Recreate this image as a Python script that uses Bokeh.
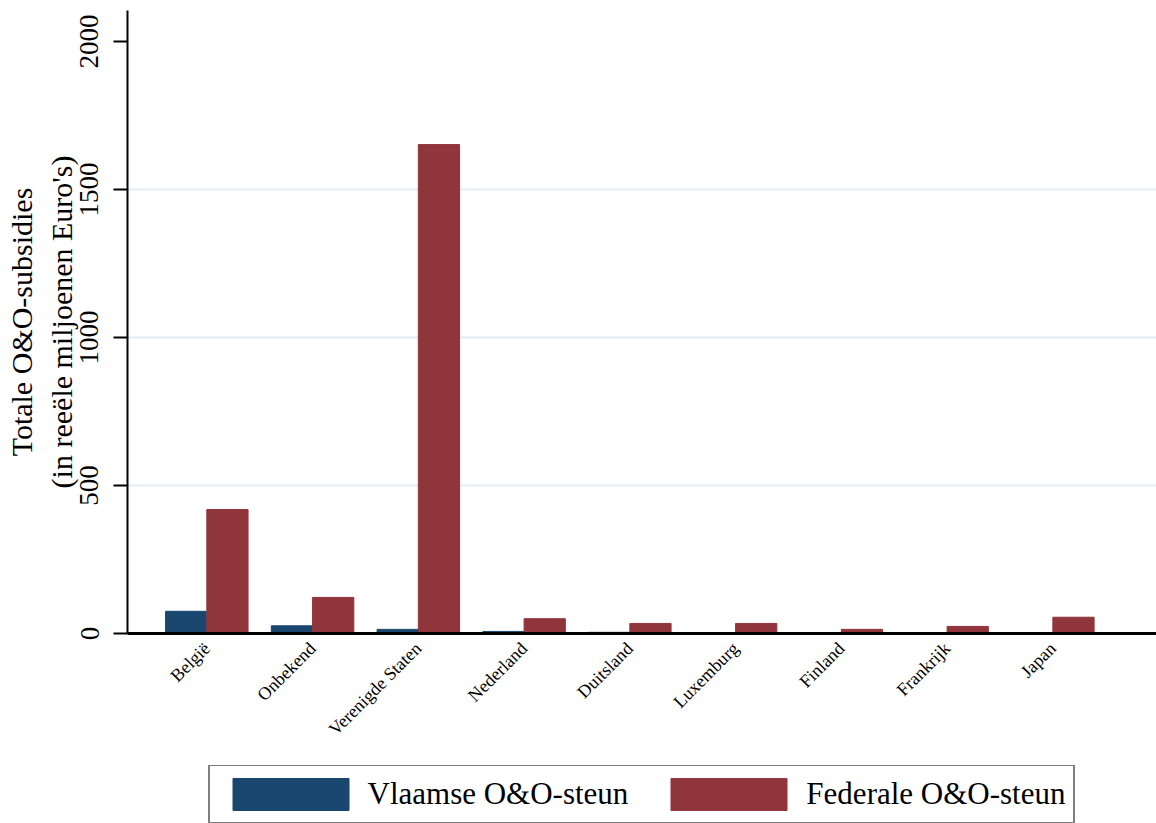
from bokeh.plotting import figure
from bokeh.models import FixedTicker, Legend, LegendItem, ColumnDataSource
from bokeh.layouts import column
from bokeh.embed import file_html
from bokeh.resources import INLINE
import numpy as np

countries = ["België", "Onbekend", "Verenigde Staten", "Nederland", "Duitsland",
             "Luxemburg", "Finland", "Frankrijk", "Japan"]
vlaamse = [75, 26, 14, 7, 4, 3, 3, 3, 3]
federale = [419, 122, 1652, 50, 34, 34, 14, 24, 55]
y_ticks = [0, 500, 1000, 1500, 2000]
series_names = ["Vlaamse O&O-steun", "Federale O&O-steun"]

FONT = "Liberation Serif"
BLUE = "#1a476f"
RED = "#90353b"

pos = np.arange(1, len(countries) + 1)
bw = 0.39

p = figure(width=1156, height=755, output_backend="svg", toolbar_location=None,
           x_range=(0.25, 9.98), y_range=(0, 2105),
           min_border_left=127, min_border_right=0, min_border_top=10,
           min_border_bottom=122)
p.outline_line_color = None
p.background_fill_color = "white"
p.border_fill_color = "white"

src = ColumnDataSource(dict(xb=pos - bw / 2, xr=pos + bw / 2, v=vlaamse, f=federale))
p.vbar(x="xb", top="v", width=bw, bottom=0, source=src, fill_color=BLUE, line_color=BLUE)
p.vbar(x="xr", top="f", width=bw, bottom=0, source=src, fill_color=RED, line_color=RED)

# x axis
p.xaxis.ticker = FixedTicker(ticks=list(pos))
p.xaxis.major_label_overrides = {int(i): c for i, c in zip(pos, countries)}
p.xaxis.major_label_orientation = np.pi / 4
p.xaxis.major_tick_line_color = None
p.xaxis.minor_tick_line_color = None
p.xaxis.axis_line_width = 3
p.xaxis.axis_line_color = "black"
p.xaxis.major_label_text_font = FONT
p.xaxis.major_label_text_font_size = "18px"
p.xaxis.major_label_text_color = "black"
p.xaxis.major_label_standoff = 6

# y axis
p.yaxis.ticker = FixedTicker(ticks=y_ticks)
p.yaxis.major_label_orientation = "vertical"
p.yaxis.major_tick_out = 14
p.yaxis.major_tick_in = 0
p.yaxis.major_tick_line_width = 2
p.yaxis.minor_tick_line_color = None
p.yaxis.axis_line_width = 2
p.yaxis.axis_line_color = "black"
p.yaxis.major_label_text_font = FONT
p.yaxis.major_label_text_font_size = "27px"
p.yaxis.major_label_text_color = "black"
p.yaxis.major_label_standoff = 15
p.yaxis.axis_label = "Totale O&O-subsidies\n(in reeële miljoenen Euro's)"
p.yaxis.axis_label_text_font = FONT
p.yaxis.axis_label_text_font_size = "30px"
p.yaxis.axis_label_text_font_style = "normal"
p.yaxis.axis_label_text_color = "black"
p.yaxis.axis_label_standoff = 0

p.xgrid.grid_line_color = None
p.ygrid.ticker = FixedTicker(ticks=[500, 1000, 1500])
p.ygrid.grid_line_color = "#e3ecf0"
p.ygrid.grid_line_width = 2

# legend strip
lg = figure(width=1156, height=68, output_backend="svg", toolbar_location=None,
            x_axis_type=None, y_axis_type=None, x_range=(0, 1), y_range=(0, 1),
            min_border_left=127, min_border_right=0, min_border_top=10, min_border_bottom=0)
lg.outline_line_color = None
lg.xgrid.grid_line_color = None
lg.ygrid.grid_line_color = None
db = lg.vbar(x=[-10], top=[-10], width=0.1, fill_color=BLUE, line_color=BLUE)
dr = lg.vbar(x=[-10], top=[-10], width=0.1, fill_color=RED, line_color=RED)
legend = Legend(items=[LegendItem(label=series_names[0], renderers=[db]),
                       LegendItem(label=series_names[1], renderers=[dr])],
                orientation="horizontal", location="center",
                glyph_width=145, glyph_height=40, label_standoff=5,
                spacing=28, padding=8, margin=0,
                label_text_font=FONT, label_text_font_size="31px",
                label_text_color="black",
                border_line_color="black", border_line_width=2,
                background_fill_alpha=1)
lg.add_layout(legend, "center")

layout = column(p, lg)
open("out.html", "w").write(file_html(layout, INLINE))
